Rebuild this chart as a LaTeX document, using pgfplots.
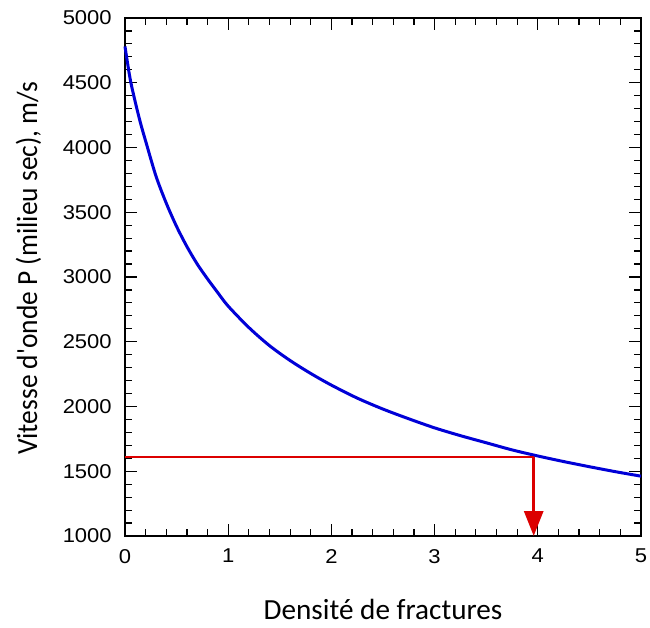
\documentclass[border=0pt]{standalone}
\usepackage{pgfplots}
\pgfplotsset{compat=1.18}
\usetikzlibrary{arrows.meta}
\usepackage{fontspec}
\setmainfont{Liberation Sans}
\newfontfamily\labelfont{Carlito}
\definecolor{cblue}{RGB}{0,0,215}
\definecolor{cred}{RGB}{220,0,0}
\begin{document}
\begin{tikzpicture}
\begin{axis}[
  scale only axis,
  width=258pt, height=259pt,
  xmin=0, xmax=5, ymin=1000, ymax=5000,
  xtick={0,1,2,3,4,5}, ytick={1000,1500,...,5000},
  minor x tick num=4, minor y tick num=4,
  tick align=inside, tick pos=both,
  major tick length=6pt, minor tick length=3.5pt,
  every tick/.style={black, line width=0.6pt},
  axis line style={line width=0.75pt},
  /pgf/number format/assume math mode=true,
  /pgf/number format/1000 sep={},
  tick label style={font=\fontsize{10}{11}\selectfont, xscale=1.1},
  yticklabel style={xshift=-2.5pt},
  xticklabel style={yshift=-3pt},
  xlabel={Densité de fractures},
  ylabel={Vitesse d'onde P (milieu sec), m/s},
  label style={font=\labelfont\fontsize{14.6}{17}\selectfont},
  xlabel style={at={(axis description cs:0.5,-0.141)}, anchor=center},
  ylabel style={at={(axis description cs:-0.187,0.517)}, anchor=center, xscale=0.94},
  clip=false,
]
\addplot[cblue, line width=1.5pt, smooth] coordinates {
(0,4780) (0.05,4530) (0.1,4350) (0.15,4190) (0.2,4050) (0.3,3780)
(0.4,3570) (0.5,3390) (0.6,3235) (0.7,3100) (0.8,2985) (0.9,2878)
(1.0,2775) (1.2,2610) (1.4,2470) (1.6,2355) (1.8,2255) (2.0,2165)
(2.25,2065) (2.5,1980) (2.75,1905) (3.0,1835) (3.25,1775) (3.5,1720)
(3.75,1665) (4.0,1618) (4.25,1575) (4.5,1535) (4.75,1497) (5.0,1462)
};
\addplot[cred, line width=1pt] coordinates {(0,1612) (3.96,1612)};
\addplot[cred, line width=1.5pt, -{Triangle[width=9.5pt,length=12.5pt]}] coordinates {(3.96,1612) (3.96,1000)};
\coordinate (bbl) at (rel axis cs:-0.2422,-0.1757);
\coordinate (btr) at (rel axis cs:1.0174,1.0347);
\end{axis}
\pgfresetboundingbox
\useasboundingbox (bbl) rectangle (btr);
\end{tikzpicture}
\end{document}
